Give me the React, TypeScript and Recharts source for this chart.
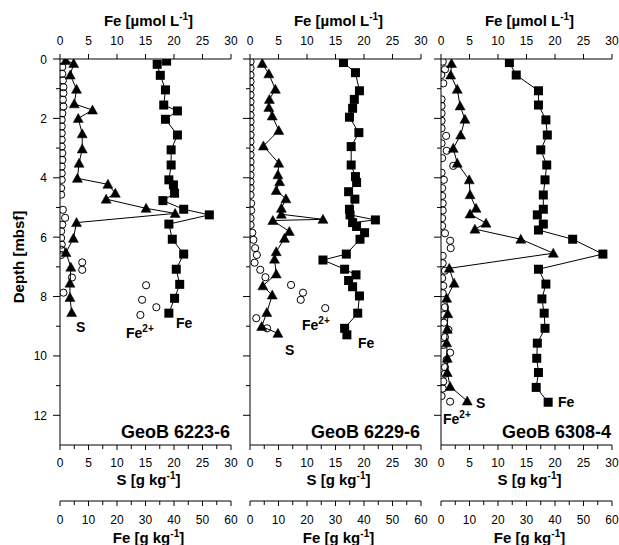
import React from 'react';
import { ScatterChart, Scatter, XAxis, YAxis } from 'recharts';

// ---------- DATA (depth in mbsf, values in native units) ----------
// GeoB 6223-6
const p1Fe2Depth = [0.05, 0.27, 0.5, 0.72, 0.95, 1.15, 1.37, 1.6, 1.83, 2.05, 2.27, 2.5, 2.72, 2.95, 3.17, 3.4, 3.62, 3.85, 4.07, 4.35, 4.57, 5.08, 5.35, 5.58, 5.8, 6.03, 6.25, 6.42, 6.6, 6.85, 7.1, 7.36, 7.62, 7.87, 8.11, 8.36, 8.62];
const p1Fe2Value = [0.3, 0.4, 0.4, 0.5, 0.6, 0.6, 0.5, 0.6, 0.4, 0.3, 0.3, 0.3, 0.3, 0.3, 0.4, 0.4, 0.3, 0.3, 0.3, 0.2, 0.2, 0.5, 0.9, 0.4, 0.2, 0.2, 0.3, 0.2, 0.2, 3.9, 3.9, 2.1, 15.1, 0.6, 14.4, 16.9, 14.1];
const p1SDepth = [0.05, 0.15, 0.54, 1.02, 1.51, 1.72, 2.0, 2.52, 3.03, 3.51, 4.02, 4.22, 4.52, 4.72, 5.03, 5.2, 5.51, 6.04, 6.52, 7.01, 7.55, 8.03, 8.54];
const p1SValue = [1.0, 2.4, 1.8, 2.9, 2.5, 5.7, 3.2, 3.9, 3.9, 3.35, 3.05, 8.4, 9.7, 8.1, 15.1, 20.2, 2.9, 2.35, 1.05, 1.9, 1.75, 1.75, 2.05];
const p1FeDepth = [0.07, 0.18, 0.55, 1.04, 1.55, 1.75, 2.03, 2.56, 3.06, 3.57, 4.07, 4.24, 4.52, 4.77, 5.06, 5.25, 5.56, 6.07, 6.57, 7.08, 7.59, 8.06, 8.56];
const p1FeValue = [37.4, 34.1, 35.2, 37.0, 36.4, 41.2, 37.0, 41.2, 39.0, 39.0, 38.2, 39.8, 40.2, 36.1, 43.4, 52.4, 38.2, 39.4, 43.4, 40.8, 42.0, 40.2, 38.2];

// GeoB 6229-6
const p2Fe2Depth = [0.09, 0.31, 0.54, 0.76, 0.99, 1.21, 1.44, 1.66, 1.89, 2.11, 2.33, 2.56, 2.78, 3.01, 3.23, 3.46, 3.68, 3.91, 4.13, 4.35, 4.58, 4.86, 5.1, 5.36, 5.59, 5.85, 6.09, 6.37, 6.6, 6.86, 7.1, 7.35, 7.61, 7.87, 8.11, 8.39, 8.73, 9.07];
const p2Fe2Value = [0.1, 0.1, 0.1, 0.1, 0.1, 0.1, 0.1, 0.1, 0.1, 0.1, 0.1, 0.1, 0.1, 0.1, 0.1, 0.1, 0.1, 0.1, 0.1, 0.1, 0.1, 0.2, 0.2, 0.1, 0.1, 0.4, 0.6, 0.9, 1.2, 0.8, 1.8, 2.7, 7.2, 9.3, 8.9, 13.2, 1.1, 3.0];
const p2SDepth = [0.15, 0.5, 1.02, 1.36, 1.63, 1.92, 2.41, 2.93, 3.51, 3.9, 4.13, 4.43, 4.71, 5.03, 5.23, 5.4, 5.44, 5.81, 6.04, 6.49, 6.74, 7.24, 7.64, 7.95, 8.54, 9.01, 9.24];
const p2SValue = [2.15, 3.3, 4.45, 3.4, 3.3, 3.9, 5.05, 2.35, 5.05, 4.9, 5.2, 4.6, 6.3, 5.5, 5.5, 12.8, 4.0, 6.9, 6.05, 4.6, 4.3, 4.6, 2.25, 3.9, 2.95, 2.05, 4.9];
const p2FeDepth = [0.12, 0.46, 1.07, 1.36, 1.66, 1.96, 2.48, 2.95, 3.57, 3.96, 4.16, 4.47, 4.72, 5.06, 5.25, 5.42, 5.51, 5.64, 5.85, 6.07, 6.57, 6.77, 7.08, 7.27, 7.46, 7.67, 7.98, 8.56, 9.07, 9.29];
const p2FeValue = [32.8, 37.0, 38.4, 36.6, 36.0, 34.9, 38.2, 35.5, 35.5, 37.0, 37.4, 34.6, 36.8, 34.9, 35.1, 44.0, 36.0, 37.4, 40.2, 38.6, 33.8, 25.6, 33.2, 37.2, 34.6, 36.0, 38.4, 37.8, 33.2, 34.0];

// GeoB 6308-4
const p3Fe2Depth = [0.09, 0.35, 0.54, 0.82, 1.36, 1.58, 1.83, 2.08, 2.33, 2.59, 2.84, 3.09, 3.34, 3.6, 3.83, 4.07, 4.35, 4.61, 4.86, 5.1, 5.36, 5.62, 5.87, 6.12, 6.37, 6.63, 6.88, 7.13, 7.38, 7.64, 7.89, 8.36, 8.62, 8.88, 9.12, 9.37, 9.63, 9.89, 10.13, 10.38, 10.6, 10.86, 11.1, 11.35, 11.54];
const p3Fe2Value = [0.3, 0.7, 0.05, 0.4, 0.1, 0.1, 0.1, 0.1, 0.1, 0.9, 0.1, 1.0, 0.2, 2.15, 0.1, 0.5, 0.2, 0.2, 0.3, 0.3, 0.2, 0.2, 0.7, 1.6, 1.7, 0.3, 0.3, 0.7, 0.2, 0.4, 0.3, 0.7, 0.5, 0.5, 1.3, 0.7, 0.4, 1.6, 1.0, 0.7, 0.7, 0.4, 0.3, 0.1, 1.6];
const p3SDepth = [0.15, 0.54, 1.02, 1.58, 2.03, 2.56, 3.01, 3.51, 4.07, 4.57, 5.03, 5.22, 5.53, 5.73, 6.07, 6.54, 7.05, 7.55, 8.06, 8.58, 9.1, 9.56, 10.08, 10.56, 11.03, 11.52];
const p3SValue = [1.85, 1.7, 2.85, 3.35, 4.2, 3.45, 2.15, 2.85, 4.95, 5.1, 6.15, 5.1, 7.9, 5.95, 14.0, 19.7, 1.45, 2.3, 1.0, 1.2, 1.1, 1.0, 1.1, 1.1, 1.6, 4.6];
const p3FeDepth = [0.12, 0.54, 1.07, 1.55, 2.05, 2.56, 3.06, 3.57, 4.07, 4.58, 5.06, 5.25, 5.56, 5.76, 6.07, 6.57, 7.08, 7.58, 8.08, 8.56, 9.07, 9.57, 10.08, 10.56, 11.06, 11.56];
const p3FeValue = [24.0, 26.4, 34.2, 34.2, 36.8, 37.3, 35.0, 37.1, 36.5, 35.9, 35.9, 33.8, 35.9, 34.2, 46.2, 56.8, 34.2, 36.8, 35.4, 36.2, 36.5, 33.8, 33.6, 34.2, 33.4, 37.6];

// tick values
const topTicks = [0, 5, 10, 15, 20, 25, 30];
const sTicks = [0, 2.5, 5, 7.5, 10, 12.5, 15, 17.5, 20, 22.5, 25, 27.5, 30];
const feTicks = [0, 5, 10, 15, 20, 25, 30, 35, 40, 45, 50, 55, 60];
const depthTicks = [0, 1, 2, 3, 4, 5, 6, 7, 8, 9, 10, 11, 12];
const stationNames = ['GeoB 6223-6', 'GeoB 6229-6', 'GeoB 6308-4'];
const dom30: [number, number] = [0, 30];
const dom60: [number, number] = [0, 60];
const domDepth: [number, number] = [0, 13];

// ---------- helpers ----------
type Pt = { d: number; x: number };
const zip = (depths: number[], vals: number[]): Pt[] => depths.map((d, i) => ({ d, x: vals[i] }));

const FONT = '"Liberation Sans", Arial, Helvetica, sans-serif';
const PLOT_W = 171;

const panels = [
  { left: 0, width: 240, yw: 60, showY: true, name: stationNames[0], fe2: zip(p1Fe2Depth, p1Fe2Value), s: zip(p1SDepth, p1SValue), fe: zip(p1FeDepth, p1FeValue),
    sLab: [76, 332], fe2Lab: [126, 338], feLab: [176, 328] },
  { left: 240, width: 190, yw: 10, showY: false, name: stationNames[1], fe2: zip(p2Fe2Depth, p2Fe2Value), s: zip(p2SDepth, p2SValue), fe: zip(p2FeDepth, p2FeValue),
    sLab: [285, 355], fe2Lab: [302, 330], feLab: [358, 348] },
  { left: 431, width: 188, yw: 10, showY: false, name: stationNames[2], fe2: zip(p3Fe2Depth, p3Fe2Value), s: zip(p3SDepth, p3SValue), fe: zip(p3FeDepth, p3FeValue),
    sLab: [476, 408], fe2Lab: [443, 424], feLab: [558, 407] },
];

const TopTick = (props: any) => {
  const { x, y, payload } = props;
  return (
    <g>
      <line x1={x} x2={x} y1={y} y2={y - 5} stroke="#000" strokeWidth={1} />
      <text x={x} y={y - 14} textAnchor="middle" fontSize={12} fontFamily={FONT} fill="#000">{payload.value}</text>
    </g>
  );
};

const STick = (props: any) => {
  const { x, y, payload } = props;
  const v = payload.value;
  const major = v % 5 === 0;
  return (
    <g>
      <line x1={x} x2={x} y1={y} y2={y + (major ? 5 : 4)} stroke="#000" strokeWidth={1} />
      {major && <text x={x} y={y + 22} textAnchor="middle" fontSize={12} fontFamily={FONT} fill="#000">{v}</text>}
    </g>
  );
};

const FeTick = (props: any) => {
  const { x, y, payload } = props;
  const v = payload.value;
  const major = v % 10 === 0;
  return (
    <g>
      <line x1={x} x2={x} y1={y} y2={y + (major ? 5 : 4)} stroke="#000" strokeWidth={1} />
      {major && <text x={x} y={y + 23} textAnchor="middle" fontSize={12} fontFamily={FONT} fill="#000">{v}</text>}
    </g>
  );
};

const DepthTickLabeled = (props: any) => {
  const { x, y, payload } = props;
  const v = payload.value;
  const major = v % 2 === 0;
  return (
    <g>
      <line x1={x - (major ? 7 : 4)} x2={x} y1={y} y2={y} stroke="#000" strokeWidth={1} />
      {major && <text x={x - 13} y={y + 4.5} textAnchor="end" fontSize={12} fontFamily={FONT} fill="#000">{v}</text>}
    </g>
  );
};
const DepthTickPlain = (props: any) => {
  const { x, y, payload } = props;
  const major = payload.value % 2 === 0;
  return <line x1={x - (major ? 7 : 4)} x2={x} y1={y} y2={y} stroke="#000" strokeWidth={1} />;
};

const Circle = (p: any) => <circle cx={p.cx} cy={p.cy} r={3.6} fill="none" stroke="#000" strokeWidth={1} />;
const Tri = (p: any) => (
  <polygon points={`${p.cx},${p.cy - 5} ${p.cx + 5},${p.cy + 4} ${p.cx - 5},${p.cy + 4}`} fill="#000" stroke="#000" strokeWidth={0.5} />
);
const Sq = (p: any) => <rect x={p.cx - 4.5} y={p.cy - 4.5} width={9} height={9} fill="#000" />;

const Sup = ({ base, sup, x, y, size, supSize }: any) => (
  <text x={x} y={y} fontFamily={FONT} fontWeight="bold" fontSize={size} fill="#000">
    {base}
    <tspan dy={-size * 0.4} fontSize={supSize}>{sup}</tspan>
  </text>
);

const Title = ({ x, y, pre, sup, post }: any) => (
  <text x={x} y={y} textAnchor="middle" fontFamily={FONT} fontWeight="bold" fontSize={15} fill="#000">
    {pre}
    <tspan dy={-6} fontSize={10}>{sup}</tspan>
    <tspan dy={6}>{post}</tspan>
  </text>
);

const renderTop = (t: any) => <TopTick {...t} />;
const renderS = (t: any) => <STick {...t} />;
const renderFe = (t: any) => <FeTick {...t} />;
const renderDL = (t: any) => <DepthTickLabeled {...t} />;
const renderDP = (t: any) => <DepthTickPlain {...t} />;
const lineStyle = { stroke: '#000', strokeWidth: 1 };

export default function App() {
  return (
    <div style={{ position: 'absolute', left: 0, top: 0, width: 619, height: 545, background: '#fff', fontFamily: FONT }}>
      {panels.map((p, i) => (
        <div key={i} style={{ position: 'absolute', left: p.left, top: 0 }}>
          <ScatterChart width={p.width} height={545} margin={{ top: 0, right: p.width - p.yw - PLOT_W, bottom: 0, left: 0 }}>
            <XAxis xAxisId="top" orientation="top" type="number" dataKey="x" domain={dom30} ticks={topTicks} interval={0}
              height={59} tickSize={0} tickMargin={0} tickLine={false} axisLine={lineStyle} tick={renderTop} allowDataOverflow />
            <XAxis xAxisId="b" orientation="bottom" type="number" dataKey="x" domain={dom60} ticks={feTicks} interval={0}
              height={44} tickSize={0} tickMargin={0} tickLine={false} axisLine={lineStyle} tick={renderFe} allowDataOverflow />
            <XAxis xAxisId="a" orientation="bottom" type="number" dataKey="x" domain={dom30} ticks={sTicks} interval={0}
              height={56} tickSize={0} tickMargin={0} tickLine={false} axisLine={lineStyle} tick={renderS} allowDataOverflow />
            <YAxis yAxisId="d" type="number" dataKey="d" domain={domDepth} reversed ticks={depthTicks} interval={0} width={p.yw}
              tickSize={0} tickMargin={0} tickLine={false} axisLine={lineStyle} tick={p.showY ? renderDL : renderDP} allowDataOverflow />
            <Scatter xAxisId="top" yAxisId="d" data={p.fe2} shape={Circle} isAnimationActive={false} />
            <Scatter xAxisId="a" yAxisId="d" data={p.s} shape={Tri} line={lineStyle} lineType="joint" isAnimationActive={false} />
            <Scatter xAxisId="b" yAxisId="d" data={p.fe} shape={Sq} line={lineStyle} lineType="joint" isAnimationActive={false} />
          </ScatterChart>
        </div>
      ))}
      <svg width={619} height={545} style={{ position: 'absolute', left: 0, top: 0, pointerEvents: 'none' }}>
        <text transform="translate(24,257) rotate(-90)" textAnchor="middle" fontFamily={FONT} fontWeight="bold" fontSize={15} fill="#000">Depth [mbsf]</text>
        {panels.map((p, i) => {
          const x0 = p.left + p.yw;
          const cx = x0 + PLOT_W / 2 + 3;
          return (
            <g key={i}>
              <Title x={cx} y={26} pre="Fe [µmol L" sup="-1" post="]" />
              <Title x={cx} y={485} pre="S [g kg" sup="-1" post="]" />
              <Title x={cx} y={543} pre="Fe [g kg" sup="-1" post="]" />
              <text x={x0 + PLOT_W - 1} y={438} textAnchor="end" fontFamily={FONT} fontWeight="bold" fontSize={18} fill="#000">{p.name}</text>
              <text x={p.sLab[0]} y={p.sLab[1]} fontFamily={FONT} fontWeight="bold" fontSize={14} fill="#000">S</text>
              <Sup x={p.fe2Lab[0]} y={p.fe2Lab[1]} base="Fe" sup="2+" size={14} supSize={10} />
              <text x={p.feLab[0]} y={p.feLab[1]} fontFamily={FONT} fontWeight="bold" fontSize={14} fill="#000">Fe</text>
            </g>
          );
        })}
      </svg>
    </div>
  );
}
